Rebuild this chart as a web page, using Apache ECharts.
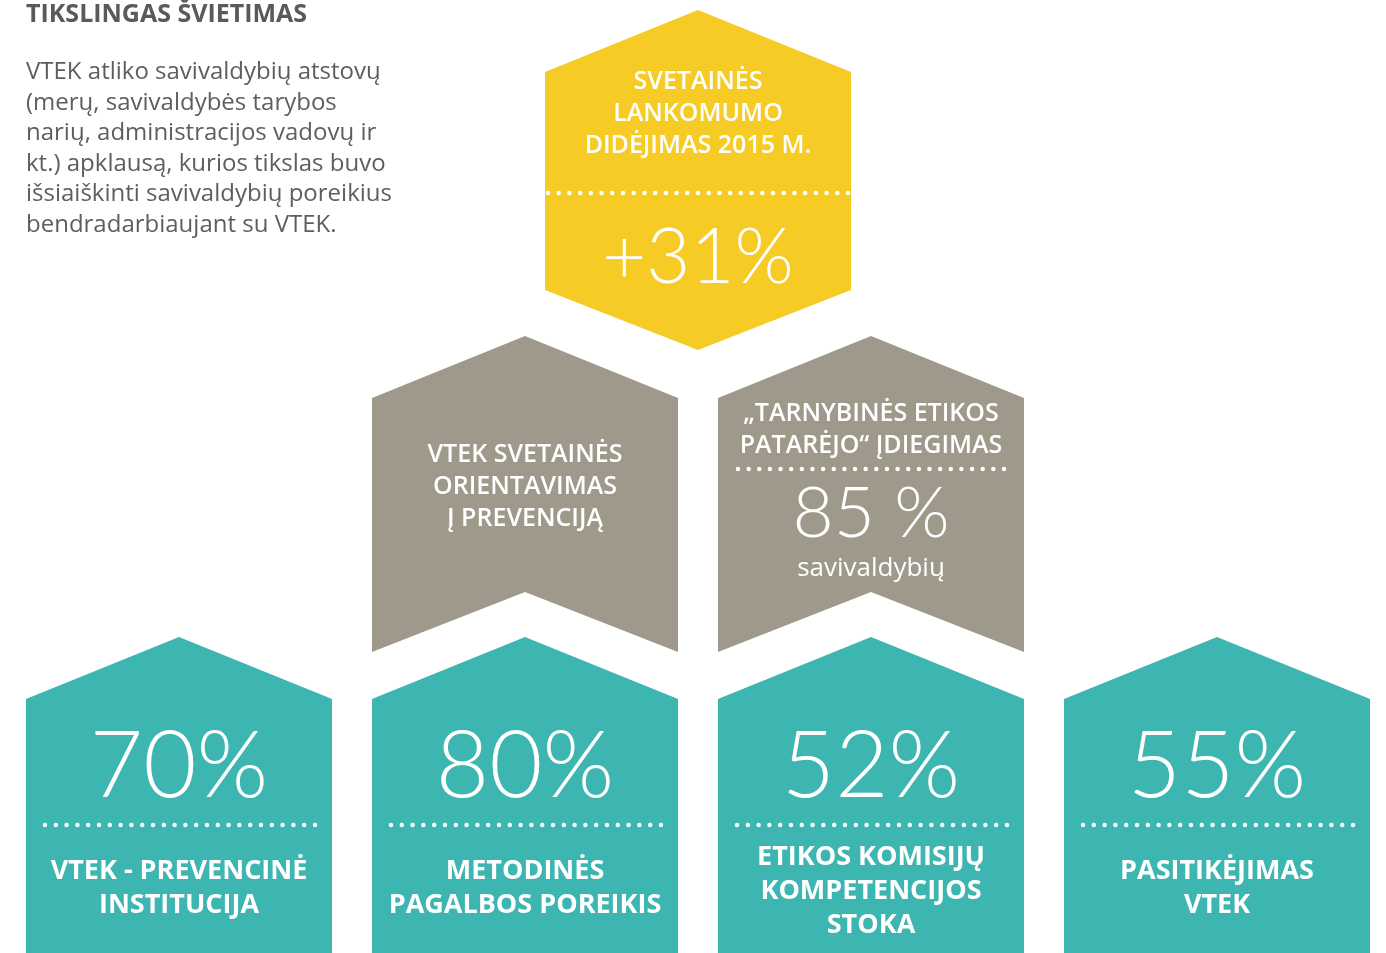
<!DOCTYPE html>
<html>
<head>
<meta charset="utf-8">
<title>Tikslingas švietimas</title>
<script src="https://cdn.jsdelivr.net/npm/echarts@6/dist/echarts.min.js"></script>
<style>
  html, body { margin: 0; padding: 0; background: #fff; }
  #chart { width: 1386px; height: 953px; }
</style>
</head>
<body>
<div id="chart"></div>
<script>
  // duomenys
  var titleText = 'TIKSLINGAS ŠVIETIMAS';
  var introLines = [
    'VTEK atliko savivaldybių atstovų',
    '(merų, savivaldybės tarybos',
    'narių, administracijos vadovų ir',
    'kt.) apklausą, kurios tikslas buvo',
    'išsiaiškinti savivaldybių poreikius',
    'bendradarbiaujant su VTEK.'
  ];
  var growthLabel = ['SVETAINĖS', 'LANKOMUMO', 'DIDĖJIMAS 2015 M.'];
  var growthValue = 31;
  var orientLabel = ['VTEK SVETAINĖS', 'ORIENTAVIMAS', 'Į PREVENCIJĄ'];
  var adviserLabel = ['„TARNYBINĖS ETIKOS', 'PATARĖJO“ ĮDIEGIMAS'];
  var adviserValue = 85;
  var adviserUnit = 'savivaldybių';
  var surveyValues = [70, 80, 52, 55];
  var surveyLabels = [
    ['VTEK - PREVENCINĖ', 'INSTITUCIJA'],
    ['METODINĖS', 'PAGALBOS POREIKIS'],
    ['ETIKOS KOMISIJŲ', 'KOMPETENCIJOS', 'STOKA'],
    ['PASITIKĖJIMAS', 'VTEK']
  ];

  var YELLOW = '#F6CB25', GRAY = '#9E998B', TEAL = '#3DB5B0';
  var FONT = '"Open Sans", sans-serif';
  var NUM_FONT = 'Lato, sans-serif';
  var HALF = 153, ROOF = 62;

  // taškuota linija: žingsnis pritaikomas, kad paskutinis taškas būtų krašte
  function dots(cx, y, left, right) {
    var len = left + right;
    var step = len / Math.round(len / 10.8);
    return {
      type: 'line',
      shape: {x1: cx - left, y1: y, x2: cx + right + 1, y2: y},
      style: {stroke: '#fff', lineWidth: 4.5, lineDash: [0, step], lineCap: 'round'}
    };
  }

  function txt(cx, y, text, size, weight, lh, family) {
    return {
      type: 'text',
      style: {
        x: cx, y: y, text: text, fill: '#fff',
        fontFamily: family || FONT, fontSize: size, fontWeight: weight,
        lineHeight: lh || size, align: 'center', verticalAlign: 'middle'
      }
    };
  }

  // geltonas šešiakampis
  function renderGrowth(params, api) {
    var cx = api.coord([api.value(0), 0])[0];
    var top = 10, bot = 290;
    return {
      type: 'group',
      children: [
        {type: 'polygon', shape: {points: [[cx, top], [cx + HALF, top + ROOF], [cx + HALF, bot], [cx, bot + 60], [cx - HALF, bot], [cx - HALF, top + ROOF]]}, style: {fill: YELLOW}},
        txt(cx, 114, growthLabel.join('\n'), 25, 600, 32),
        dots(cx, 193, 150, 150),
        txt(cx, 258, '+' + api.value(1) + '%', 76, 300, null, NUM_FONT)
      ]
    };
  }

  // pilkos juostos
  function renderGray(params, api) {
    var cx = api.coord([api.value(0), 0])[0];
    var top = 336, bot = 652;
    var kids = [
      {type: 'polygon', shape: {points: [[cx, top], [cx + HALF, top + ROOF], [cx + HALF, bot], [cx, bot - 60], [cx - HALF, bot], [cx - HALF, top + ROOF]]}, style: {fill: GRAY}}
    ];
    if (params.dataIndex === 0) {
      kids.push(txt(cx, 487, orientLabel.join('\n'), 25, 600, 32));
    } else {
      kids.push(txt(cx, 430, adviserLabel.join('\n'), 25, 600, 32));
      kids.push(dots(cx, 469, 133, 133));
      kids.push(txt(cx, 514, api.value(1) + ' %', 71, 300, null, NUM_FONT));
      kids.push(txt(cx, 569, adviserUnit, 26, 'normal'));
    }
    return {type: 'group', children: kids};
  }

  // žalsvi namukai
  function renderSurvey(params, api) {
    var cx = api.coord([api.value(0), 0])[0];
    var top = 637;
    var lines = surveyLabels[params.dataIndex];
    return {
      type: 'group',
      children: [
        {type: 'polygon', shape: {points: [[cx, top], [cx + HALF, top + ROOF], [cx + HALF, 970], [cx - HALF, 970], [cx - HALF, top + ROOF]]}, style: {fill: TEAL}},
        txt(cx, 767, api.value(1) + '%', 92, 300, null, NUM_FONT),
        dots(cx, 825, 134, 136),
        txt(cx, lines.length > 2 ? 891 : 888, lines.join('\n'), 27, 'bold', 34)
      ]
    };
  }

  var chart = echarts.init(document.getElementById('chart'));
  chart.setOption({
    animation: false,
    title: {
      text: titleText,
      subtext: introLines.join('\n'),
      left: 26,
      top: 0,
      padding: 0,
      itemGap: 28,
      textStyle: {fontFamily: FONT, fontSize: 25, fontWeight: 'bold', color: '#5a5a5a', lineHeight: 29},
      subtextStyle: {fontFamily: FONT, fontSize: 24, color: '#5e5e5e', lineHeight: 30.5}
    },
    grid: {left: 0, right: 0, top: 0, bottom: 0},
    xAxis: {type: 'value', min: -179 / 346, max: 1207 / 346, show: false},
    yAxis: {type: 'value', min: 0, max: 953, inverse: true, show: false},
    series: [
      {type: 'custom', clip: false, renderItem: renderGrowth, data: [[1.5, growthValue]]},
      {type: 'custom', clip: false, renderItem: renderGray, data: [[1, 0], [2, adviserValue]]},
      {type: 'custom', clip: false, renderItem: renderSurvey, data: surveyValues.map(function (v, i) { return [i, v]; })}
    ]
  });
</script>
</body>
</html>
